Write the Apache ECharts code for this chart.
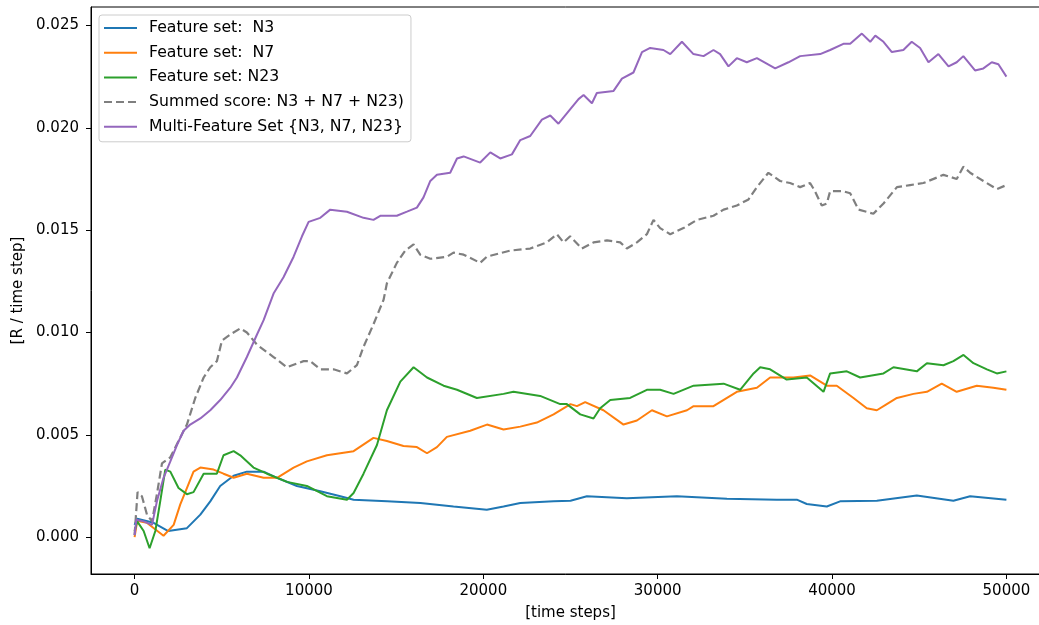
<!DOCTYPE html>
<html>
<head>
<meta charset="utf-8">
<script src="https://cdn.jsdelivr.net/npm/echarts@6/dist/echarts.min.js"></script>
<style>
  html, body { margin: 0; padding: 0; background: #fff; }
  #chart { width: 1039px; height: 625px; }
</style>
</head>
<body>
<div id="chart"></div>
<script>
// Reward per time step over training, one curve per feature set
const seriesNames = [
  'Feature set:  N3',
  'Feature set:  N7',
  'Feature set: N23',
  'Summed score: N3 + N7 + N23)',
  'Multi-Feature Set {N3, N7, N23}'
];

const xTicks = [0, 10000, 20000, 30000, 40000, 50000];
const yTicks = [0, 0.005, 0.010, 0.015, 0.020, 0.025];

const n3Steps = [0,150,1090,1930,3000,3770,4340,4910,5680,6440,7400,8170,9310,10650,11800,12560,14480,16390,18290,20200,21160,22120,24030,25000,25940,28230,31100,33970,36830,37980,38550,39700,40460,42570,44860,46960,47920,50000];
const n3Values = [0.0006,0.0009,0.0007,0.0003,0.00044,0.0011,0.00175,0.0025,0.003,0.0032,0.0032,0.0029,0.0025,0.00224,0.002,0.00183,0.00175,0.00167,0.0015,0.00134,0.0015,0.00167,0.00175,0.00178,0.002,0.0019,0.002,0.00188,0.00183,0.00183,0.00162,0.0015,0.00175,0.00178,0.00204,0.00178,0.002,0.00183];

const n7Steps = [0,150,700,1660,2240,2620,3000,3380,3770,4530,5100,5680,6440,7400,8170,9120,9880,11030,12560,13700,14470,15420,16190,16770,17340,17910,19250,20210,21160,22120,23070,24030,25000,25370,25840,26890,28040,28810,29670,30530,31680,32060,33200,34540,35690,36450,37790,38740,39700,40270,41230,41990,42570,43140,43720,44670,45440,46290,47150,48300,49250,50000];
const n7Values = [0.0000,0.0008,0.0007,0.00007,0.0006,0.0016,0.0024,0.0032,0.0034,0.0033,0.0031,0.0029,0.0031,0.0029,0.0029,0.0034,0.0037,0.004,0.0042,0.00485,0.0047,0.00445,0.0044,0.0041,0.0044,0.0049,0.0052,0.0055,0.00526,0.0054,0.0056,0.006,0.0065,0.0064,0.0066,0.0062,0.0055,0.0057,0.0062,0.0059,0.0062,0.0064,0.0064,0.0071,0.0073,0.0078,0.0078,0.0079,0.0074,0.0074,0.0068,0.0063,0.0062,0.0065,0.0068,0.007,0.0071,0.0075,0.0071,0.0074,0.0073,0.0072];

const n23Steps = [0,150,520,860,1190,1470,1760,2050,2520,3000,3380,3960,4720,5100,5680,6060,6820,7590,8740,9880,11030,12180,12560,13130,13900,14470,15240,16000,16770,17720,18490,19630,21160,21730,23260,24410,24790,25560,26320,26700,27280,28420,29380,30140,30910,32060,33780,34730,35500,35880,36450,37400,38550,39510,39890,40850,41610,42950,43520,44860,45440,46390,46960,47540,48110,48880,49450,50000];
const n23Values = [0.0003,0.00077,0.0003,-0.00054,0.0003,0.00175,0.0033,0.0032,0.0024,0.0021,0.0022,0.0031,0.0031,0.004,0.0042,0.004,0.0034,0.0031,0.0027,0.0025,0.002,0.00183,0.00216,0.0031,0.0045,0.0062,0.0076,0.0083,0.0078,0.0074,0.0072,0.0068,0.007,0.0071,0.0069,0.0065,0.0065,0.006,0.0058,0.0063,0.0067,0.0068,0.0072,0.0072,0.007,0.0074,0.0075,0.0072,0.008,0.0083,0.0082,0.0077,0.0078,0.0071,0.008,0.0081,0.0078,0.008,0.0083,0.0081,0.0085,0.0084,0.0086,0.0089,0.0085,0.0082,0.008,0.0081];

const sumSteps = [0,170,420,710,1000,1280,1570,2050,2520,3000,3480,3960,4340,4720,5010,5490,6060,6440,7020,7970,8740,9690,10070,10650,11410,12180,12750,13130,13700,14280,14470,15040,15520,16000,16380,16960,17910,18290,18870,19820,20200,21540,22690,23640,24220,24600,24980,25650,26320,27090,27850,28230,28810,29380,29760,30140,30720,31480,32250,33200,33780,34540,35210,35690,36350,37020,37590,38170,38740,39020,39410,39700,39890,40650,41040,41520,42370,42950,43720,44480,45240,46390,47150,47530,47920,48680,49450,50000];
const sumValues = [0.0001,0.0022,0.002,0.0011,0.00077,0.0021,0.0036,0.0039,0.0047,0.0055,0.0068,0.0078,0.0083,0.0086,0.0096,0.0099,0.0102,0.01,0.0094,0.0088,0.0083,0.0086,0.0086,0.0082,0.0082,0.008,0.0084,0.0093,0.0104,0.0116,0.0124,0.0134,0.014,0.0143,0.0138,0.0136,0.0137,0.0139,0.0138,0.0134,0.0137,0.014,0.0141,0.0144,0.0148,0.0144,0.0147,0.0141,0.0144,0.0145,0.0144,0.0141,0.0144,0.0148,0.0155,0.0151,0.0148,0.0151,0.0155,0.0157,0.016,0.0162,0.0165,0.0171,0.0178,0.0174,0.0173,0.0171,0.0173,0.0169,0.0162,0.0163,0.0169,0.0169,0.0168,0.016,0.0158,0.0163,0.0171,0.0172,0.0173,0.0177,0.0175,0.0181,0.0178,0.0174,0.017,0.0172];

const multiSteps = [0,100,520,1000,1280,1660,2050,2430,2810,3190,3770,4340,4910,5490,5870,6440,7020,7400,7970,8540,9120,9600,9980,10650,11220,12180,13130,13700,14090,15040,15620,16190,16570,16960,17340,18100,18490,18870,19820,20400,20970,21640,22120,22690,23360,23840,24310,24790,25460,25750,26230,26510,27470,27950,28610,29100,29570,30330,30720,31390,32050,32630,33200,33580,34060,34540,35110,35690,36740,37500,38170,39320,39890,40650,41040,41710,42190,42480,42950,43430,44090,44570,45050,45530,46100,46680,47150,47530,48200,48680,49160,49540,50000];
const multiValues = [0.0001,0.00085,0.00077,0.0006,0.00175,0.0029,0.0037,0.0045,0.0052,0.0055,0.0058,0.0062,0.0067,0.0073,0.0078,0.0088,0.0099,0.0106,0.0119,0.0127,0.0137,0.0147,0.0154,0.0156,0.016,0.0159,0.0156,0.0155,0.0157,0.0157,0.0159,0.0161,0.0166,0.0174,0.0177,0.0178,0.0185,0.0186,0.0183,0.0188,0.0185,0.0187,0.0194,0.0196,0.0204,0.0206,0.0202,0.0207,0.0214,0.0216,0.0212,0.0217,0.0218,0.0224,0.0227,0.0237,0.0239,0.0238,0.0236,0.0242,0.0236,0.0235,0.0238,0.0236,0.023,0.0234,0.0232,0.0234,0.0229,0.0232,0.0235,0.0236,0.0238,0.0241,0.0241,0.0246,0.0242,0.0245,0.0242,0.0237,0.0238,0.0242,0.0239,0.0232,0.0236,0.023,0.0232,0.0235,0.0228,0.0229,0.0232,0.0231,0.0225];

const colors = ['#1f77b4', '#ff7f0e', '#2ca02c', '#7f7f7f', '#9467bd'];
const FONT = 'DejaVu Sans';

function pairs(steps, values) {
  return steps.map((s, i) => [s, values[i]]);
}

const curves = [
  pairs(n3Steps, n3Values),
  pairs(n7Steps, n7Values),
  pairs(n23Steps, n23Values),
  pairs(sumSteps, sumValues),
  pairs(multiSteps, multiValues)
];

const chart = echarts.init(document.getElementById('chart'), null, { renderer: 'canvas' });

const axisLineStyle = { show: true, onZero: false, lineStyle: { color: '#000', width: 1 } };

chart.setOption({
  animation: false,
  backgroundColor: '#fff',
  color: colors,
  textStyle: { fontFamily: FONT },
  // the plot frame runs past the right edge of the canvas
  grid: {
    left: 91, top: 7, width: 959, height: 567,
    outerBoundsMode: 'none',
    containLabel: false,
    show: true, borderColor: '#000', borderWidth: 1, backgroundColor: 'transparent'
  },
  legend: {
    orient: 'vertical',
    left: 99, top: 15,
    padding: [5, 7, 7, 4],
    itemWidth: 33, itemHeight: 15, itemGap: 8.7,
    backgroundColor: 'rgba(255,255,255,0.85)',
    borderColor: '#cccccc', borderWidth: 1, borderRadius: 3,
    itemStyle: { opacity: 0 },
    textStyle: { fontFamily: FONT, fontSize: 15.7, color: '#000', padding: [0, 0, 0, 7] },
    data: seriesNames
  },
  xAxis: {
    type: 'value',
    min: -2500, max: 52500,
    name: '[time steps]', nameLocation: 'middle', nameGap: 32,
    nameTextStyle: { fontFamily: FONT, fontSize: 15, color: '#000' },
    axisLine: axisLineStyle,
    axisTick: { show: true, length: 5, lineStyle: { color: '#000', width: 1 }, customValues: xTicks },
    axisLabel: { fontFamily: FONT, fontSize: 15, color: '#000', margin: 10, customValues: xTicks,
                 formatter: v => String(v) },
    splitLine: { show: false }
  },
  yAxis: {
    type: 'value',
    min: -0.0018, max: 0.0259,
    name: '[R / time step]', nameLocation: 'middle', nameGap: 61, nameRotate: 90,
    nameTextStyle: { fontFamily: FONT, fontSize: 15, color: '#000' },
    axisLine: axisLineStyle,
    axisTick: { show: true, length: 5, lineStyle: { color: '#000', width: 1 }, customValues: yTicks },
    axisLabel: { fontFamily: FONT, fontSize: 15, color: '#000', margin: 12, customValues: yTicks,
                 formatter: v => v.toFixed(3) },
    splitLine: { show: false }
  },
  series: curves.map((data, i) => ({
    name: seriesNames[i],
    type: 'line',
    data: data,
    symbol: 'none',
    showSymbol: false,
    smooth: false,
    lineStyle: {
      color: colors[i],
      width: i === 3 ? 2.2 : 2,
      type: i === 3 ? [8, 4] : 'solid'
    },
    itemStyle: { color: colors[i] },
    emphasis: { disabled: true }
  }))
});
</script>
</body>
</html>
